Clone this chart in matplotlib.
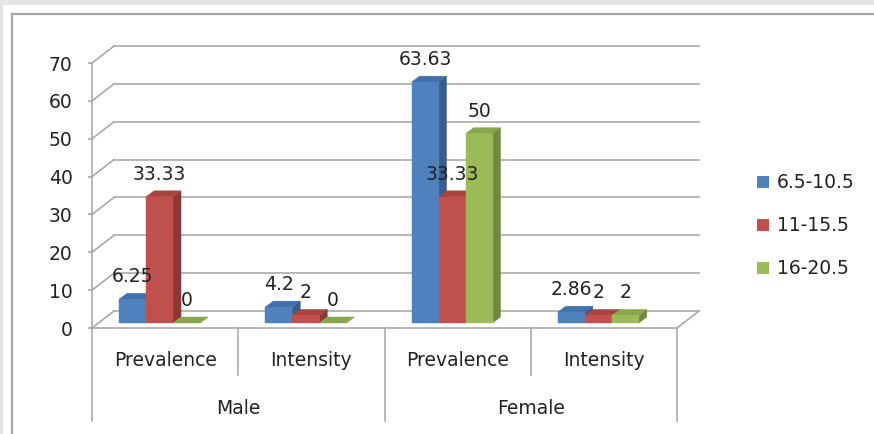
import matplotlib
matplotlib.use("Agg")
import matplotlib.pyplot as plt
from matplotlib.patches import Polygon, Rectangle, Patch

# ---------------- data ----------------
categories = ["Prevalence", "Intensity", "Prevalence", "Intensity"]
groups = ["Male", "Female"]
series_names = ["6.5-10.5", "11-15.5", "16-20.5"]
vals_6_10 = [6.25, 4.2, 63.63, 2.86]
vals_11_15 = [33.33, 2, 33.33, 2]
vals_16_20 = [0, 0, 50, 2]
label_6_10 = ["6.25", "4.2", "63.63", "2.86"]
label_11_15 = ["33.33", "2", "33.33", "2"]
label_16_20 = ["0", "0", "50", "2"]
yticks = [0, 10, 20, 30, 40, 50, 60, 70]

series_vals = [vals_6_10, vals_11_15, vals_16_20]
series_labels = [label_6_10, label_11_15, label_16_20]
front_cols = ["#4F81BD", "#C0504D", "#9BBB59"]
side_cols = ["#385D8A", "#8C3836", "#71893F"]
top_cols = ["#4270AA", "#A8443F", "#88A64C"]

W, H = 874, 434
fig = plt.figure(figsize=(W / 100, H / 100), dpi=100)
fig.patch.set_facecolor("#e4e4e4")

# chart area (white) + border
bg = Rectangle((3 / W, 0), 1, 1 - 5 / H, transform=fig.transFigure,
               facecolor="white", edgecolor="none", zorder=-10)
fig.add_artist(bg)
fig.add_artist(plt.Line2D([12 / W, 12 / W], [0, 1 - 14 / H], transform=fig.transFigure,
                          color="#a6a6a6", lw=1.6, zorder=-5))
fig.add_artist(plt.Line2D([12 / W, 1], [1 - 14 / H, 1 - 14 / H], transform=fig.transFigure,
                          color="#a6a6a6", lw=1.6, zorder=-5))

# axes = front plane
x0px, x1px, y0px, y70px = 92, 677, 328, 63
ax = fig.add_axes([x0px / W, (H - y0px) / H, (x1px - x0px) / W, (y0px - y70px) / H])
ax.set_zorder(1)
ax.set_xlim(0, 4)
ax.set_ylim(0, 70)
ax.patch.set_alpha(0)
for s in ax.spines.values():
    s.set_visible(False)
ax.set_xticks([])
ax.set_yticks(yticks)
ax.set_yticklabels([str(t) for t in yticks])
ax.tick_params(axis="y", length=2.9, width=1.1, color="#a0a0a0", pad=11,
               labelsize=13.5, labelcolor="#222222")

PXX = 4 / (x1px - x0px)
PXY = 70 / (y0px - y70px)
DXF, DYF = 22 * PXX, 17 * PXY          # floor depth
BDX, BDY = 8 * PXX, 6 * PXY            # bar depth
BY0 = 5 * PXY                           # bar base lift
BW = 27 * PXX                           # bar width
GOFF = -5.6 * PXX                       # group shift
gcol = "#a3a3a3"
glw = 1.1

# gridlines: side wall diagonals + back wall
for v in yticks:
    ax.plot([0, DXF], [v, v + DYF], color=gcol, lw=glw, clip_on=False, zorder=1)
    ax.plot([DXF, 4 + DXF], [v + DYF, v + DYF], color=gcol, lw=glw, clip_on=False, zorder=1)
# floor front and right edge
ax.plot([0, 4], [0, 0], color=gcol, lw=glw, clip_on=False, zorder=1)
ax.plot([4, 4 + DXF], [0, DYF], color=gcol, lw=glw, clip_on=False, zorder=1)

# axis line + separators
low1 = -47 * PXY
low2 = -93 * PXY
ax.plot([0, 0], [low2, 70], color=gcol, lw=glw, clip_on=False, zorder=1)
for xs, lo in [(1, low1), (2, low2), (3, low1), (4, low2)]:
    ax.plot([xs, xs], [lo, 0], color=gcol, lw=glw, clip_on=False, zorder=1)

# bars
for ci in range(len(categories)):
    cx = ci + 0.5 + GOFF
    for si in range(3):
        v = series_vals[si][ci]
        xl = cx + (si - 1.5) * BW
        xr = xl + BW
        yb = BY0
        yt = BY0 + v
        side = Polygon([(xr, yb), (xr + BDX, yb + BDY), (xr + BDX, yt + BDY), (xr, yt)],
                       closed=True, facecolor=side_cols[si], edgecolor=side_cols[si],
                       lw=0.3, clip_on=False, zorder=3)
        top = Polygon([(xl, yt), (xl + BDX, yt + BDY), (xr + BDX, yt + BDY), (xr, yt)],
                      closed=True, facecolor=top_cols[si], edgecolor=top_cols[si],
                      lw=0.3, clip_on=False, zorder=3)
        front = Polygon([(xl, yb), (xr, yb), (xr, yt), (xl, yt)], closed=True,
                        facecolor=front_cols[si], edgecolor=front_cols[si], lw=0.3,
                        clip_on=False, zorder=3)
        ax.add_patch(side)
        ax.add_patch(top)
        if v > 0:
            ax.add_patch(front)
        ax.annotate(series_labels[si][ci], xy=((xl + xr) / 2, yt), xytext=(0, 16.2),
                    textcoords="offset points", ha="center", va="center",
                    fontsize=13.5, color="#222222", zorder=5, annotation_clip=False)

# category labels
for ci, c in enumerate(categories):
    ax.text(ci + 0.5, -32 * PXY, c, ha="center", va="center", fontsize=13.5,
            color="#222222", clip_on=False)
for gi, g in enumerate(groups):
    ax.text(gi * 2 + 1, -80 * PXY, g, ha="center", va="center", fontsize=13.5,
            color="#222222", clip_on=False)

# legend
handles = [Patch(facecolor=front_cols[i], edgecolor="none") for i in range(3)]
leg = fig.legend(handles, series_names, loc="center left",
                 bbox_to_anchor=(757 / W, 1 - 226 / H), frameon=False, fontsize=13.5,
                 handlelength=0.66, handleheight=0.66, handletextpad=0.4,
                 labelspacing=1.28, borderpad=0, borderaxespad=0, labelcolor="#222222")
leg.set_zorder(5)

fig.savefig("out.png", dpi=100, facecolor=fig.get_facecolor())
